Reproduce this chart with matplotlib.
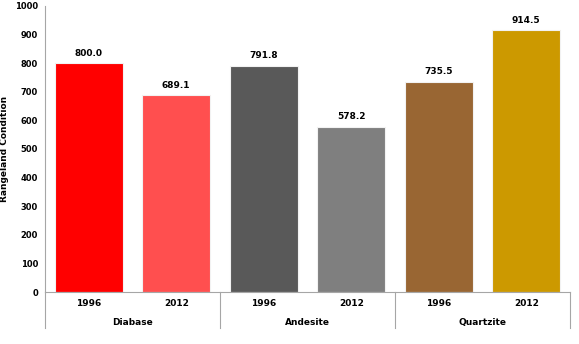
import numpy as np
import matplotlib.pyplot as plt
import matplotlib.transforms as transforms

groups = ["Diabase", "Andesite", "Quartzite"]
years = ["1996", "2012", "1996", "2012", "1996", "2012"]
values = [800.0, 689.1, 791.8, 578.2, 735.5, 914.5]
colors = ["#FF0000", "#FF4F4F", "#595959", "#7F7F7F", "#996633", "#CC9900"]

plt.rcParams['font.family'] = ['DejaVu Sans']
plt.rcParams['font.weight'] = 'bold'

fig = plt.figure(figsize=(5.79, 3.44), dpi=100)
ax = fig.add_axes([45/579, 1 - 292/344, 525/579, 286/344])

x = np.arange(len(values))
bars = ax.bar(x, values, width=0.78, color=colors, edgecolor="#F2F2F2", linewidth=0.8)
for xi, v in zip(x, values):
    ax.text(xi, v + 18, "%.1f" % v, ha="center", va="bottom", fontsize=6.5, fontweight="bold")

ax.set_xlim(-0.5, len(values) - 0.5)
ax.set_ylim(0, 1000)
ax.set_yticks(np.arange(0, 1001, 100))
ax.tick_params(axis="y", length=0, labelsize=6, pad=5)
ax.set_xticks([])
ax.set_ylabel("Rangeland Condition", fontsize=6.5, fontweight="bold", labelpad=4)

for s in ["top", "right"]:
    ax.spines[s].set_visible(False)
ax.spines["left"].set_color("#A6A6A6")
ax.spines["bottom"].set_color("#A6A6A6")

trans = transforms.blended_transform_factory(ax.transData, ax.transAxes)
# year labels
for xi, yr in zip(x, years):
    ax.text(xi, -0.04, yr, transform=trans, ha="center", va="center", fontsize=6.5, fontweight="bold")
# group labels and separators
per = len(values) // len(groups)
for gi, g in enumerate(groups):
    center = gi * per + (per - 1) / 2
    ax.text(center, -0.108, g, transform=trans, ha="center", va="center", fontsize=6.5, fontweight="bold")
for b in np.arange(len(groups) + 1) * per - 0.5:
    ax.plot([b, b], [0, -0.127], transform=trans, color="#A6A6A6", linewidth=0.8, clip_on=False)

fig.savefig("out.png", dpi=100)
